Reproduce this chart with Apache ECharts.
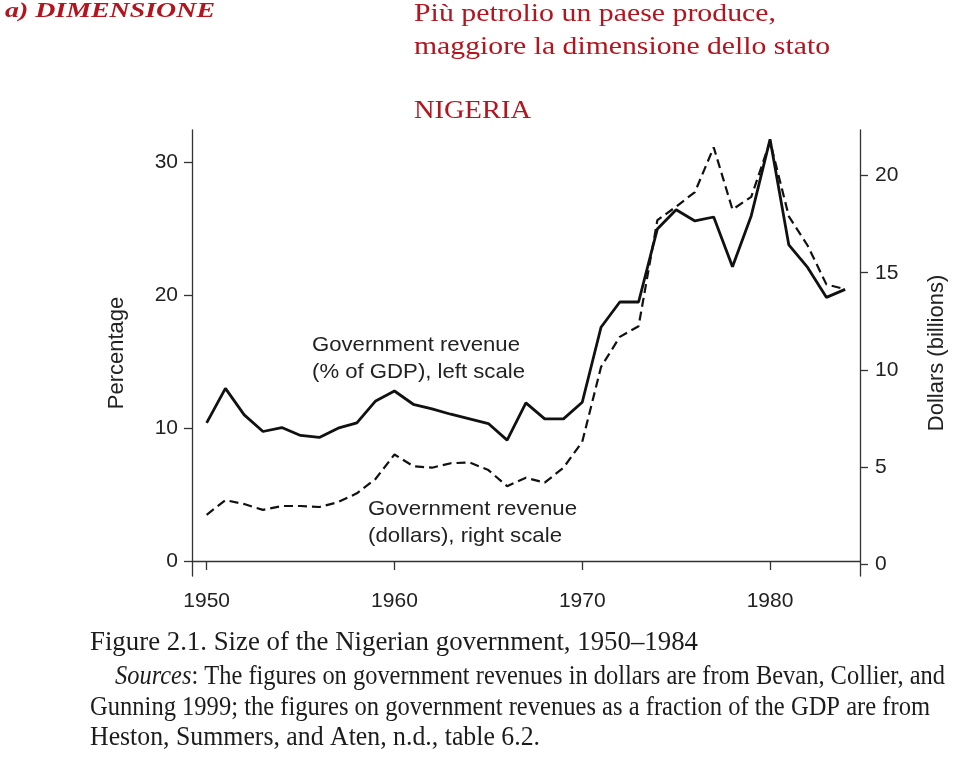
<!DOCTYPE html>
<html>
<head>
<meta charset="utf-8">
<script src="https://cdn.jsdelivr.net/npm/echarts@6/dist/echarts.min.js"></script>
<style>
  html, body { margin: 0; padding: 0; background: #fff; }
  #chart { width: 960px; height: 760px; }
</style>
</head>
<body>
<div id="chart"></div>
<script>
// ---- Data ----
const years = [1950,1951,1952,1953,1954,1955,1956,1957,1958,1959,1960,1961,1962,1963,1964,1965,1966,1967,1968,1969,1970,1971,1972,1973,1974,1975,1976,1977,1978,1979,1980,1981,1982,1983,1984];
const revenuePctGDP = [10.4,13.0,11.0,9.75,10.05,9.45,9.3,10.0,10.4,12.05,12.8,11.8,11.45,11.05,10.7,10.35,9.1,11.9,10.7,10.7,11.95,17.6,19.5,19.5,25.0,26.45,25.6,25.9,22.15,26.0,31.75,23.8,22.1,19.85,20.45];
const revenueDollars = [2.55,3.3,3.1,2.8,3.0,3.0,2.95,3.2,3.65,4.4,5.65,5.05,4.97,5.2,5.24,4.85,4.02,4.45,4.2,4.97,6.3,10.15,11.7,12.25,17.7,18.4,19.15,21.45,18.25,18.9,21.75,17.9,16.4,14.4,14.15];
const xTicks = [1950,1960,1970,1980];
const leftTicks = [0,10,20,30];
const rightTicks = [0,5,10,15,20];
const leftAxisName = 'Percentage';
const rightAxisName = 'Dollars (billions)';
const seriesNames = ['Government revenue (% of GDP), left scale', 'Government revenue (dollars), right scale'];

// ---- Helpers for text layout ----
const ctx = document.createElement('canvas').getContext('2d');
function measure(font, text) { ctx.font = font; return ctx.measureText(text).width; }
function fitText(text, font, x, y, width, color, extra) {
  const w = measure(font, text);
  return Object.assign({
    type: 'text', x: x, y: y, scaleX: width / w, silent: true,
    style: { text: text, font: font, fill: color, align: 'left', verticalAlign: 'middle' }
  }, extra || {});
}
const RED = '#b3141e';
const serif = '"Liberation Serif", "DejaVu Serif", serif';
const sans = '"Liberation Sans", Arial, sans-serif';
const capFont = '27px ' + serif;
const capItalic = 'italic 27px ' + serif;
const INK = '#1c1c1c';

// Caption line with italic "Sources"
const srcA = 'Sources', srcB = ': The figures on government revenues in dollars are from Bevan, Collier, and';
const srcW = measure(capItalic, srcA) + measure(capFont, srcB);

const graphics = [
  fitText('a) DIMENSIONE', 'italic bold 21px ' + serif, 5, 12, 210, RED),
  fitText('Più petrolio un paese produce,', '26px ' + serif, 414, 14, 362, RED),
  fitText('maggiore la dimensione dello stato', '26px ' + serif, 414, 47, 416, RED),
  fitText('NIGERIA', '26px ' + serif, 414, 111, 117, RED),
  fitText('Government revenue', '21px ' + sans, 312, 345, 208, '#222'),
  fitText('(% of GDP), left scale', '21px ' + sans, 312, 372, 213, '#222'),
  fitText('Government revenue', '21px ' + sans, 368, 509, 209, '#222'),
  fitText('(dollars), right scale', '21px ' + sans, 368, 536, 194, '#222'),
  fitText('Figure 2.1. Size of the Nigerian government, 1950–1984', capFont, 90, 643, 608, INK),
  {
    type: 'text', x: 115, y: 677, scaleX: 830 / srcW, silent: true,
    style: {
      text: '{i|' + srcA + '}{r|' + srcB + '}', align: 'left', verticalAlign: 'middle',
      rich: { i: { font: capItalic, fill: INK }, r: { font: capFont, fill: INK } }
    }
  },
  fitText('Gunning 1999; the figures on government revenues as a fraction of the GDP are from', capFont, 90, 708, 840, INK),
  fitText('Heston, Summers, and Aten, n.d., table 6.2.', capFont, 90, 738, 450, INK)
];

const axisLineStyle = { color: '#333', width: 1.3 };
const labelStyle = { fontFamily: sans, fontSize: 21, color: '#222' };

const chart = echarts.init(document.getElementById('chart'), null, { renderer: 'canvas' });
chart.setOption({
  animation: false,
  backgroundColor: '#fff',
  grid: { left: 192, right: 100, top: 130, bottom: 184, containLabel: false },
  xAxis: {
    type: 'value', min: 1949.22, max: 1984.79,
    axisLine: { show: true, lineStyle: axisLineStyle },
    axisTick: { show: true, length: 9, lineStyle: axisLineStyle, customValues: xTicks },
    axisLabel: Object.assign({ margin: 15, customValues: xTicks, formatter: v => String(v) }, labelStyle),
    splitLine: { show: false }
  },
  yAxis: [
    {
      type: 'value', position: 'left', min: -1.13, max: 32.45,
      name: leftAxisName, nameLocation: 'middle', nameRotate: 90, nameGap: 64,
      nameTextStyle: { fontFamily: sans, fontSize: 22, color: '#222' },
      axisLine: { show: true, lineStyle: axisLineStyle },
      axisTick: { show: true, length: 8, lineStyle: axisLineStyle, customValues: leftTicks },
      axisLabel: Object.assign({ margin: 14, customValues: leftTicks }, labelStyle),
      splitLine: { show: false }
    },
    {
      type: 'value', position: 'right', min: -0.6, max: 22.34,
      name: rightAxisName, nameLocation: 'middle', nameRotate: 90, nameGap: 66,
      nameTextStyle: { fontFamily: sans, fontSize: 22, color: '#222' },
      axisLine: { show: true, lineStyle: axisLineStyle },
      axisTick: { show: true, length: 8, lineStyle: axisLineStyle, customValues: rightTicks },
      axisLabel: Object.assign({ margin: 15, customValues: rightTicks }, labelStyle),
      splitLine: { show: false }
    }
  ],
  series: [
    {
      name: seriesNames[0], type: 'line', yAxisIndex: 0, symbol: 'none',
      lineStyle: { color: '#111', width: 2.8 },
      data: years.map((y, i) => [y, revenuePctGDP[i]])
    },
    {
      name: seriesNames[1], type: 'line', yAxisIndex: 1, symbol: 'none',
      lineStyle: { color: '#111', width: 2.2, type: [9, 5] },
      data: years.map((y, i) => [y, revenueDollars[i]])
    }
  ],
  graphic: graphics
});
</script>
</body>
</html>
